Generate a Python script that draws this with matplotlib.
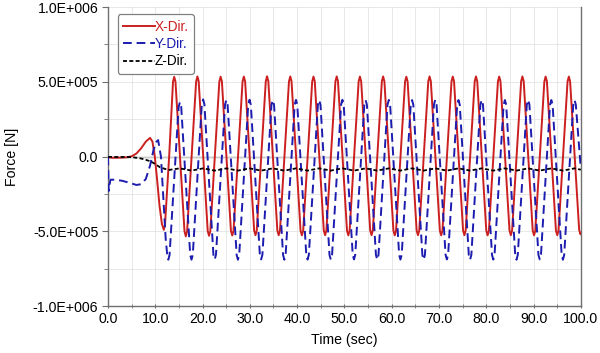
import matplotlib
matplotlib.use("Agg")
import matplotlib.pyplot as plt
import numpy as np
from matplotlib.ticker import FuncFormatter, MultipleLocator

plt.rcParams["font.family"] = ["Liberation Sans", "DejaVu Sans"]

# forces, in units of 1e5 N
x_time = [
    0.0, 1.0, 2.0, 3.0, 4.0, 5.0, 6.0, 7.0, 8.0, 8.9, 9.4, 9.9, 10.4, 10.9, 11.4, 11.8, 12.05, 12.95, 13.75,
    14.00, 14.27, 15.23, 16.18, 16.46, 16.73, 17.68, 18.64,
    18.91, 19.18, 20.14, 21.09, 21.37, 21.64, 22.59, 23.55,
    23.82, 24.09, 25.05, 26.00, 26.28, 26.55, 27.50, 28.46,
    28.73, 29.00, 29.96, 30.91, 31.19, 31.46, 32.41, 33.37,
    33.64, 33.91, 34.87, 35.82, 36.10, 36.37, 37.32, 38.28,
    38.55, 38.82, 39.78, 40.73, 41.01, 41.28, 42.23, 43.19,
    43.46, 43.73, 44.69, 45.64, 45.92, 46.19, 47.14, 48.10,
    48.37, 48.64, 49.60, 50.55, 50.83, 51.10, 52.05, 53.01,
    53.28, 53.55, 54.51, 55.46, 55.74, 56.01, 56.96, 57.92,
    58.19, 58.46, 59.42, 60.37, 60.65, 60.92, 61.87, 62.83,
    63.10, 63.37, 64.33, 65.28, 65.56, 65.83, 66.78, 67.74,
    68.01, 68.28, 69.24, 70.19, 70.47, 70.74, 71.69, 72.65,
    72.92, 73.19, 74.15, 75.10, 75.38, 75.65, 76.60, 77.56,
    77.83, 78.10, 79.06, 80.01, 80.29, 80.56, 81.51, 82.47,
    82.74, 83.01, 83.97, 84.92, 85.20, 85.47, 86.42, 87.38,
    87.65, 87.92, 88.88, 89.83, 90.11, 90.38, 91.33, 92.29,
    92.56, 92.83, 93.79, 94.74, 95.02, 95.29, 96.24, 97.20,
    97.47, 97.74, 98.70, 99.65, 99.93, 100.0,
]
x_force = [
    -0.05, -0.08, -0.08, -0.07, -0.05, 0.02, 0.2, 0.55, 1.0, 1.25, 1.0, 0.0, -1.6, -3.3, -4.5, -4.9, -4.6, 0.1, 5.0,
    5.33, 5.01, 0.0, -5.0, -5.34, -5.0, 0.0, 5.01,
    5.36, 5.03, 0.0, -4.98, -5.30, -4.98, 0.0, 5.02,
    5.34, 5.02, 0.0, -4.97, -5.28, -4.97, 0.0, 5.02,
    5.35, 5.03, 0.0, -4.95, -5.26, -4.95, 0.0, 5.03,
    5.37, 5.04, 0.0, -4.95, -5.26, -4.95, 0.0, 5.03,
    5.36, 5.03, 0.0, -4.96, -5.27, -4.96, 0.0, 5.02,
    5.35, 5.03, 0.0, -4.95, -5.26, -4.95, 0.0, 5.03,
    5.36, 5.04, 0.0, -4.96, -5.27, -4.96, 0.0, 5.02,
    5.35, 5.03, 0.0, -4.95, -5.26, -4.95, 0.0, 5.03,
    5.36, 5.03, 0.0, -4.96, -5.27, -4.96, 0.0, 5.02,
    5.34, 5.02, 0.0, -4.95, -5.26, -4.95, 0.0, 5.03,
    5.36, 5.04, 0.0, -4.96, -5.27, -4.96, 0.0, 5.02,
    5.35, 5.03, 0.0, -4.95, -5.26, -4.95, 0.0, 5.03,
    5.36, 5.03, 0.0, -4.96, -5.27, -4.96, 0.0, 5.02,
    5.35, 5.03, 0.0, -4.95, -5.26, -4.95, 0.0, 5.03,
    5.36, 5.04, 0.0, -4.96, -5.27, -4.96, 0.0, 5.02,
    5.35, 5.03, 0.0, -4.95, -5.26, -4.95, 0.0, 5.03,
    5.35, 5.02, 0.0, -4.9, -5.2, -5.15,
]

y_time = [
    0.0, 0.15, 0.5, 1.5, 3.0, 4.5, 6.0, 7.0, 8.0, 8.9, 9.6, 10.1, 10.6, 11.2, 11.7, 12.2, 12.5,
    12.75, 13.02, 13.98, 14.93, 15.21, 15.48, 16.43, 17.39,
    17.66, 17.93, 18.89, 19.84, 20.12, 20.39, 21.34, 22.30,
    22.57, 22.84, 23.80, 24.75, 25.03, 25.30, 26.25, 27.21,
    27.48, 27.75, 28.71, 29.66, 29.94, 30.21, 31.16, 32.12,
    32.39, 32.66, 33.62, 34.57, 34.85, 35.12, 36.07, 37.03,
    37.30, 37.57, 38.53, 39.48, 39.76, 40.03, 40.98, 41.94,
    42.21, 42.48, 43.44, 44.39, 44.67, 44.94, 45.89, 46.85,
    47.12, 47.39, 48.35, 49.30, 49.58, 49.85, 50.80, 51.76,
    52.03, 52.30, 53.26, 54.21, 54.49, 54.76, 55.71, 56.67,
    56.94, 57.21, 58.17, 59.12, 59.40, 59.67, 60.62, 61.58,
    61.85, 62.12, 63.08, 64.03, 64.31, 64.58, 65.53, 66.49,
    66.76, 67.03, 67.99, 68.94, 69.22, 69.49, 70.44, 71.40,
    71.67, 71.94, 72.90, 73.85, 74.13, 74.40, 75.35, 76.31,
    76.58, 76.85, 77.81, 78.76, 79.04, 79.31, 80.26, 81.22,
    81.49, 81.76, 82.72, 83.67, 83.95, 84.22, 85.17, 86.13,
    86.40, 86.67, 87.63, 88.58, 88.86, 89.13, 90.08, 91.04,
    91.31, 91.58, 92.54, 93.49, 93.77, 94.04, 94.99, 95.95,
    96.22, 96.49, 97.45, 98.40, 98.68, 98.95, 100.0,
]
y_force = [
    0.0, -2.3, -1.55, -1.55, -1.62, -1.75, -1.9, -1.85, -1.5, -0.6, 0.4, 0.95, 1.1, 0.0, -2.8, -5.5, -6.5,
    -6.9, -6.58, -1.6, 3.3, 3.65, 3.35, -1.56, -6.58,
    -6.9, -6.58, -1.56, 3.5, 3.82, 3.5, -1.56, -6.58,
    -6.88, -6.56, -1.56, 3.46, 3.78, 3.46, -1.56, -6.58,
    -6.9, -6.58, -1.56, 3.47, 3.8, 3.47, -1.56, -6.58,
    -6.88, -6.56, -1.56, 3.46, 3.78, 3.46, -1.56, -6.58,
    -6.9, -6.58, -1.56, 3.47, 3.79, 3.47, -1.56, -6.58,
    -6.89, -6.57, -1.56, 3.46, 3.78, 3.46, -1.56, -6.58,
    -6.9, -6.58, -1.56, 3.47, 3.8, 3.47, -1.56, -6.58,
    -6.88, -6.56, -1.56, 3.46, 3.78, 3.46, -1.56, -6.58,
    -6.9, -6.58, -1.56, 3.47, 3.79, 3.47, -1.56, -6.58,
    -6.89, -6.57, -1.56, 3.46, 3.78, 3.46, -1.56, -6.58,
    -6.9, -6.58, -1.56, 3.47, 3.8, 3.47, -1.56, -6.58,
    -6.88, -6.56, -1.56, 3.46, 3.78, 3.46, -1.56, -6.58,
    -6.9, -6.58, -1.56, 3.47, 3.79, 3.47, -1.56, -6.58,
    -6.89, -6.57, -1.56, 3.46, 3.78, 3.46, -1.56, -6.58,
    -6.9, -6.58, -1.56, 3.47, 3.8, 3.47, -1.56, -6.58,
    -6.88, -6.56, -1.56, 3.46, 3.78, 3.46, -1.56, -6.58,
    -6.9, -6.58, -1.56, 3.46, 3.78, 3.46, -0.8,
]

z_time = [
    0.0, 2.0, 4.0, 5.0, 6.0, 7.0, 8.0, 9.0, 10.0, 11.0, 12.0, 12.75,
    15.21, 17.66, 20.12, 22.57, 25.03, 27.48, 29.94, 32.39, 34.85, 37.30, 39.76, 42.21,
    44.67, 47.12, 49.58, 52.03, 54.49, 56.94, 59.40, 61.85, 64.31, 66.76, 69.22, 71.67,
    74.13, 76.58, 79.04, 81.49, 83.95, 86.40, 88.86, 91.31, 93.77, 96.22, 98.68, 100.0,
]
z_force = [
    -0.02, -0.03, -0.03, -0.04, -0.08, -0.13, -0.22, -0.32, -0.5, -0.72, -0.82, -0.9,
    -0.79, -0.94, -0.79, -0.94, -0.79, -0.94, -0.79, -0.94, -0.79, -0.94, -0.79, -0.94,
    -0.79, -0.94, -0.79, -0.94, -0.79, -0.94, -0.79, -0.94, -0.79, -0.94, -0.79, -0.94,
    -0.79, -0.94, -0.79, -0.94, -0.79, -0.94, -0.79, -0.94, -0.79, -0.94, -0.79, -0.88,
]

UNIT = 1e5


def force_label(v, _pos):
    if abs(v) < 1e-9:
        return "0.0"
    exp = int(np.floor(np.log10(abs(v))))
    mant = v / 10 ** exp
    return f"{mant:.1f}E+{exp:03d}"


fig = plt.figure(figsize=(6.0, 3.53), dpi=100)
ax = fig.add_axes([0.18, 0.133, 0.788, 0.847])

ax.axhline(0, color="#555555", lw=0.9, zorder=1)
ax.plot(x_time, np.array(x_force) * UNIT, color="#cc2020", lw=1.4, label="X-Dir.", zorder=3)
ax.plot(y_time, np.array(y_force) * UNIT, color="#1c1cb0", lw=1.4, ls=(0, (4.5, 2.5)), label="Y-Dir.", zorder=4)
ax.plot(z_time, np.array(z_force) * UNIT, color="black", lw=1.3, ls=(0, (2.2, 1.3)), label="Z-Dir.", zorder=5)

ax.set_xlim(0, 100)
ax.set_ylim(-1e6, 1e6)
ax.xaxis.set_major_locator(MultipleLocator(10))
ax.xaxis.set_minor_locator(MultipleLocator(5))
ax.yaxis.set_major_locator(MultipleLocator(5e5))
ax.yaxis.set_minor_locator(MultipleLocator(2.5e5))
ax.xaxis.set_major_formatter(FuncFormatter(lambda v, p: f"{v:.1f}"))
ax.yaxis.set_major_formatter(FuncFormatter(force_label))
ax.grid(which="both", color="#e4e4e4", lw=0.6, zorder=0)

for side in ("left", "bottom", "right"):
    ax.spines[side].set_color("#707070")
    ax.spines[side].set_linewidth(1.0)
ax.spines["top"].set_visible(False)

ax.tick_params(axis="y", which="major", direction="out", length=4, color="#707070", labelsize=10.2, pad=3)
ax.tick_params(axis="y", which="minor", direction="out", length=3, color="#707070")
ax.tick_params(axis="x", which="both", direction="inout", length=3, color="#707070", labelsize=10.2, pad=3)
ax.tick_params(axis="y", which="both", right=False)

ax.set_xlabel("Time (sec)", fontsize=10.2, labelpad=5)
ax.set_ylabel("Force [N]", fontsize=10.2, labelpad=10)

leg = ax.legend(loc="upper left", bbox_to_anchor=(0.012, 0.99), fontsize=9.8, handlelength=2.3,
                handletextpad=0.0, labelspacing=0.25, borderpad=0.4, borderaxespad=0.3, fancybox=True,
                edgecolor="#808080", framealpha=1.0)
leg.get_frame().set_linewidth(0.9)
for text, line in zip(leg.get_texts(), leg.get_lines()):
    text.set_color(line.get_color())

fig.savefig("out.png", dpi=100)
